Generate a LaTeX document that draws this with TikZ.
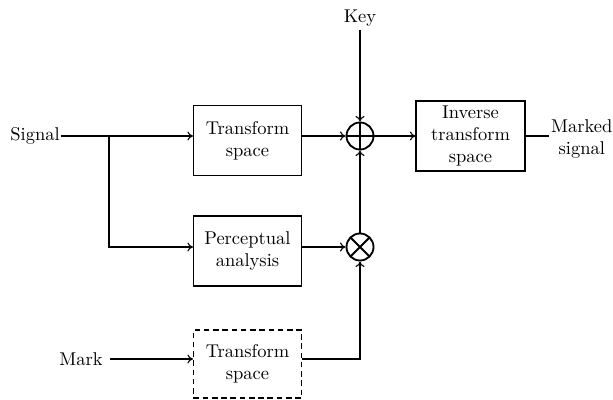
\documentclass[tikz,border=0pt]{standalone}
\usetikzlibrary{arrows.meta}
\begin{document}
\begin{tikzpicture}[x=0.5405pt,y=-0.5405pt,
  blockbox/.style={draw,line width=0.6pt,align=center,inner sep=2pt,
    minimum width=58.4pt,minimum height=37.8pt},
  dashbox/.style={blockbox,dash pattern=on 3pt off 2pt},
  sumnode/.style={circle,draw,line width=1pt,minimum size=14.6pt,inner sep=0pt,
    path picture={\draw[line width=1pt]
      (path picture bounding box.north)--(path picture bounding box.south)
      (path picture bounding box.west)--(path picture bounding box.east);}},
  mulnode/.style={circle,draw,line width=1pt,minimum size=14.6pt,inner sep=0pt,
    path picture={\draw[line width=1pt]
      (path picture bounding box.north west)--(path picture bounding box.south east)
      (path picture bounding box.south west)--(path picture bounding box.north east);}},
  conn/.style={line width=0.6pt},
  arr/.style={conn,-{To[length=3pt,width=4.8pt]}},
  lbl/.style={inner sep=0.5pt,align=center}]
\useasboundingbox (0,0) rectangle (613,400);

\node[blockbox] (tr) at (247.5,140.5) {Transform\\space};
\node[blockbox] (perc) at (247.5,251) {Perceptual\\analysis};
\node[dashbox,minimum height=36.8pt] (dtr) at (247.5,364) {Transform\\space};
\node[blockbox,minimum width=58.9pt] (inv) at (470.5,136) {Inverse\\transform\\space};
\node[sumnode] (plus) at (360,136) {};
\node[mulnode] (times) at (360,247) {};

\node[lbl,anchor=east] (sig) at (61,136) {Signal};
\node[inner sep=2pt] (key) at (360,18) {Key};
\node[lbl,anchor=east,inner sep=0pt] (mark) at (103,359) {Mark};
\node[lbl,anchor=west,inner sep=1pt] (ms) at (549,139) {Marked\\signal};
\coordinate (br) at (109,136);

\draw[arr] (sig.east) -- (sig.east -| tr.west);
\draw[arr] (br) |- (perc.west |- times);
\draw[arr] (tr.east |- plus) -- (plus);
\draw[arr] (perc.east |- times) -- (times);
\draw[arr] (key) -- (plus);
\draw[arr] (times) -- (plus);
\draw[arr] (plus) -- (inv);
\draw[conn] (inv.east) -- (inv.east -| ms.west);
\draw[arr,shorten <=3.8pt] (mark.east) -- (mark.east -| dtr.west);
\draw[arr] (dtr.east |- mark.east) -- (times |- mark.east) -- (times);
\end{tikzpicture}
\end{document}
